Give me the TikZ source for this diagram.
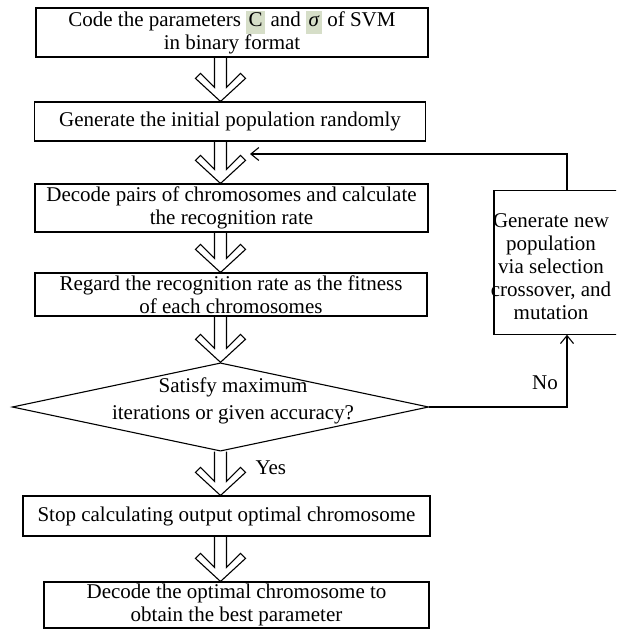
\documentclass[tikz,border=0pt]{standalone}
\usepackage{fontspec}
\setmainfont{Liberation Serif}
\usetikzlibrary{shapes.geometric,arrows.meta,calc}
\definecolor{hlgreen}{RGB}{214,222,200}
\newcommand{\hlbox}[1]{{\setlength{\fboxsep}{0pt}\colorbox{hlgreen}{\strut\hspace{2.5pt}#1\hspace{2.5pt}}}}
\newcommand{\hollowdown}[2]{%
  \draw[arrline] let \p1=(#1.south), \p2=(#2.north), \p3=(dia.center) in
   (\x3-6pt,\y1) -- (\x3-6pt,\y2+14pt) -- (\x3-20pt,\y2+28pt) -- (\x3-25pt,\y2+23pt)
   -- (\x3,\y2) -- (\x3+25pt,\y2+23pt) -- (\x3+20pt,\y2+28pt) -- (\x3+6pt,\y2+14pt) -- (\x3+6pt,\y1);}
\begin{document}
\begin{tikzpicture}[x=1pt,y=-1pt,line width=1.1pt,
  txt/.style={inner sep=0pt,align=center,font=\fontsize{21}{23}\selectfont},
  box/.style={txt,draw,rectangle},
  arrline/.style={line width=1.1pt,line join=miter},
  thinarrow/.style={line width=1.1pt,-{Straight Barb[length=8pt,width=13pt]}}]
\clip (0,0) rectangle (616,631);
\node[box,minimum width=392pt,minimum height=49pt] (b1) at (232,32.5)
  {Code the parameters \hlbox{C} and \hlbox{\textit{σ}} of SVM\\in binary format};
\node[box,minimum width=391pt,minimum height=39pt] (b2) at (230,121.5)
  {Generate the initial population randomly};
\node[box,minimum width=393pt,minimum height=48pt] (b3) at (231.5,208)
  {Decode pairs of chromosomes and calculate\\the recognition rate};
\node[box,minimum width=392pt,minimum height=43pt] (b4) at (231,294.5)
  {Regard the recognition rate as the fitness\\of each chromosomes};
\node[draw,diamond,inner sep=0pt,minimum width=416.5pt,minimum height=88.3pt] (dia) at (220.5,407) {};
\node[txt] (diatxt) at (233,401) {Satisfy maximum\\[4pt]iterations or given accuracy?};
\node[box,minimum width=407pt,minimum height=40pt] (b5) at (226.5,516)
  {Stop calculating output optimal chromosome};
\node[box,minimum width=385pt,minimum height=46pt] (b6) at (236.5,605)
  {Decode the optimal chromosome to\\obtain the best parameter};
\node[draw,rectangle,minimum width=146pt,minimum height=143.3pt] (gen) at (567,262.5) {};
\node[txt] (gentext) at (551,266.5)
  {Generate new\\population\\via selection\\crossover, and\\mutation};
\node[txt,anchor=west] (yes) at (255,468) {Yes};
\node[txt] (no) at (545,383) {No};
\coordinate (fbtip) at (250,154);
\hollowdown{b1}{b2}
\hollowdown{b2}{b3}
\hollowdown{b3}{b4}
\hollowdown{b4}{dia}
\hollowdown{dia}{b5}
\hollowdown{b5}{b6}
\draw[thinarrow] (gen.north) |- (fbtip);
\draw[thinarrow] (dia.east) -| (gen.south);
\end{tikzpicture}
\end{document}
